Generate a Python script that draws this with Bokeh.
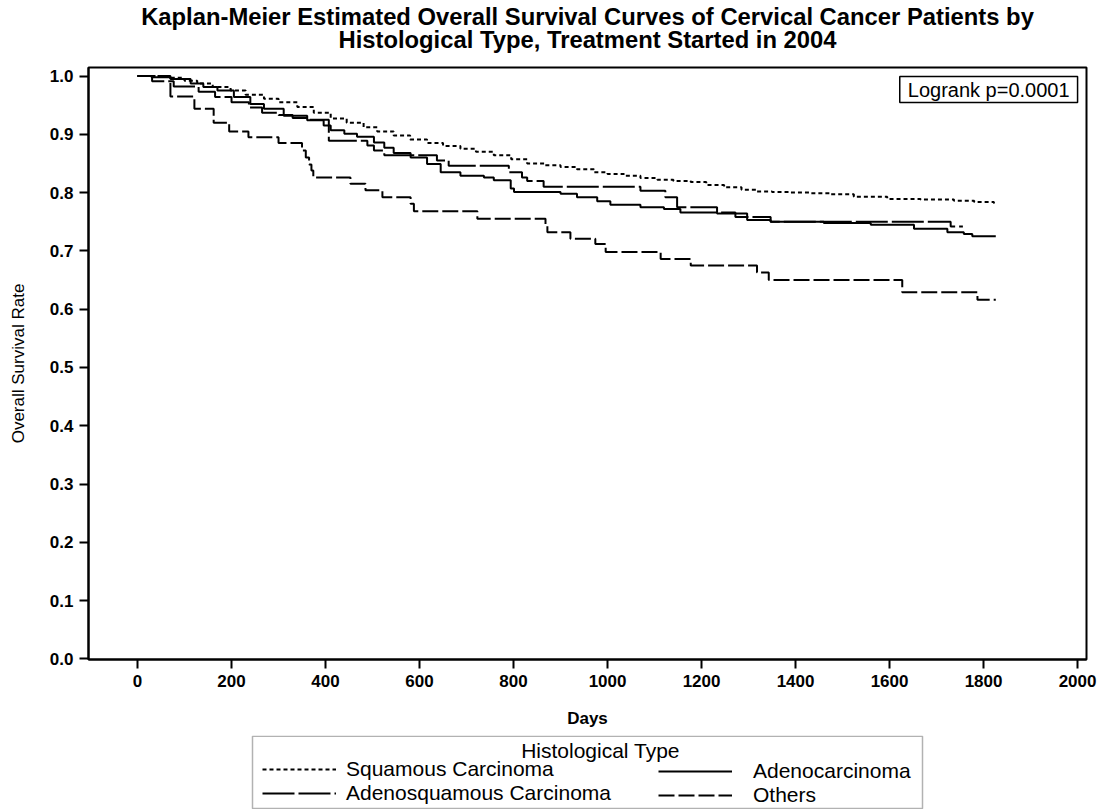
from bokeh.plotting import figure
from bokeh.layouts import column
from bokeh.models import (Range1d, FixedTicker, PrintfTickFormatter, Legend, LegendItem, Label,
                          BoxAnnotation)
from bokeh.embed import file_html
from bokeh.resources import INLINE

# ---- data ----
sq_days = [0, 40, 70, 100, 127, 160, 198, 230, 269, 300, 340, 375, 411, 445, 481, 510, 545, 580,
           616, 650, 687, 720, 758, 795, 829, 865, 900, 935, 971, 1000, 1035, 1070, 1106, 1140,
           1177, 1210, 1248, 1285, 1318, 1350, 1389, 1430, 1474, 1524, 1595, 1666, 1737, 1780, 1822, 1826]
sq_surv = [1.0, 0.999, 0.997, 0.992, 0.987, 0.981, 0.975, 0.968, 0.961, 0.955, 0.947, 0.937, 0.927,
           0.920, 0.912, 0.905, 0.898, 0.891, 0.885, 0.880, 0.875, 0.870, 0.864, 0.857, 0.850, 0.847,
           0.844, 0.840, 0.835, 0.832, 0.829, 0.825, 0.822, 0.820, 0.818, 0.813, 0.809, 0.805, 0.802,
           0.801, 0.800, 0.799, 0.797, 0.793, 0.789, 0.788, 0.786, 0.784, 0.782, 0.782]

ad_days = [0, 30, 70, 113, 140, 170, 205, 240, 269, 311, 361, 396, 411, 440, 467, 503, 525, 545,
           581, 616, 645, 687, 737, 758, 794, 801, 900, 935, 978, 1006, 1070, 1120, 1155, 1233,
           1297, 1347, 1460, 1560, 1652, 1723, 1758, 1776, 1826]
ad_surv = [1.0, 0.998, 0.995, 0.987, 0.981, 0.975, 0.964, 0.952, 0.944, 0.932, 0.924, 0.915, 0.907,
           0.901, 0.896, 0.886, 0.877, 0.868, 0.860, 0.849, 0.835, 0.829, 0.826, 0.821, 0.807, 0.801,
           0.798, 0.792, 0.785, 0.779, 0.775, 0.772, 0.766, 0.764, 0.753, 0.750, 0.748, 0.745, 0.738,
           0.732, 0.729, 0.725, 0.725]

as_days = [0, 31, 77, 130, 165, 200, 237, 265, 300, 330, 360, 407, 489, 503, 525, 637, 662, 790,
           818, 829, 864, 1070, 1123, 1148, 1233, 1272, 1347, 1730, 1756]
as_surv = [1.0, 0.991, 0.982, 0.973, 0.964, 0.955, 0.946, 0.937, 0.933, 0.928, 0.925, 0.889, 0.881,
           0.872, 0.864, 0.855, 0.846, 0.835, 0.826, 0.820, 0.810, 0.803, 0.792, 0.775, 0.766, 0.758,
           0.750, 0.742, 0.742]

ot_days = [0, 70, 121, 162, 195, 236, 300, 350, 358, 365, 370, 374, 453, 485, 521, 581, 588, 723,
           868, 872, 921, 974, 996, 1113, 1177, 1318, 1343, 1627, 1787, 1826]
ot_surv = [1.0, 0.965, 0.944, 0.920, 0.905, 0.895, 0.885, 0.872, 0.860, 0.848, 0.838, 0.826, 0.815,
           0.804, 0.792, 0.781, 0.768, 0.755, 0.744, 0.732, 0.721, 0.712, 0.698, 0.686, 0.675, 0.663,
           0.650, 0.629, 0.616, 0.616]

series_names = ["Squamous Carcinoma", "Adenocarcinoma", "Adenosquamous Carcinoma", "Others"]
x_ticks = [0, 200, 400, 600, 800, 1000, 1200, 1400, 1600, 1800, 2000]
y_ticks = [0.0, 0.1, 0.2, 0.3, 0.4, 0.5, 0.6, 0.7, 0.8, 0.9, 1.0]

title_line1 = "Kaplan-Meier Estimated Overall Survival Curves of Cervical Cancer Patients by"
title_line2 = "Histological Type, Treatment Started in 2004"
legend_title = "Histological Type"
logrank_text = "Logrank p=0.0001"
FONT = "Liberation Sans"
W = 1107
FRAME_L, FRAME_R = 88, 1086   # page pixels of the plotting frame (strips are aligned to it)
STYLES = {"Squamous Carcinoma": "4 3", "Adenocarcinoma": "solid",
          "Adenosquamous Carcinoma": "32 4", "Others": "16 4"}
data = {"Squamous Carcinoma": (sq_days, sq_surv), "Adenocarcinoma": (ad_days, ad_surv),
        "Adenosquamous Carcinoma": (as_days, as_surv), "Others": (ot_days, ot_surv)}


def strip(height):
    f = figure(width=W, height=height, output_backend="svg", toolbar_location=None,
               x_axis_type=None, y_axis_type=None, min_border=0,
               x_range=Range1d(FRAME_L, FRAME_R), y_range=Range1d(0, height))
    f.outline_line_color = None
    f.background_fill_color = "white"
    f.border_fill_color = "white"
    return f


# ---------- title strip ----------
H0 = 59
p0 = strip(H0)
for txt, cy in ((title_line1, 16), (title_line2, 39)):
    p0.add_layout(Label(x=587, y=H0 - cy, text=txt, text_align="center", text_baseline="middle",
                        text_font=FONT, text_font_size="23.8px", text_font_style="bold",
                        text_color="black"))

# ---------- main plot ----------
H1 = 676
p = figure(width=W, height=H1, output_backend="svg", toolbar_location=None,
           x_range=Range1d(-104.3, 2019), y_range=Range1d(-0.001, 1.0146),
           min_border_left=88, min_border_right=21, min_border_top=8, min_border_bottom=76)
p.grid.visible = False
p.outline_line_color = "black"
p.outline_line_width = 2
p.background_fill_color = "white"
p.border_fill_color = "white"

for ax in (p.xaxis[0], p.yaxis[0]):
    ax.axis_line_width = 2
    ax.major_tick_line_width = 2
    ax.major_tick_in = 0
    ax.major_tick_out = 9
    ax.minor_tick_line_color = None
    ax.major_label_text_font = FONT
    ax.major_label_text_font_size = "17px"
    ax.major_label_text_font_style = "bold"
    ax.major_label_text_color = "black"
    ax.major_label_standoff = 6
    ax.axis_label_text_font = FONT
    ax.axis_label_text_color = "black"

p.xaxis.ticker = FixedTicker(ticks=x_ticks)
p.yaxis.ticker = FixedTicker(ticks=y_ticks)
p.yaxis.formatter = PrintfTickFormatter(format="%.1f")
p.xaxis.axis_label = "Days"
p.xaxis.axis_label_text_font_size = "17px"
p.xaxis.axis_label_text_font_style = "bold"
p.xaxis.axis_label_standoff = 19
p.yaxis.axis_label = "Overall Survival Rate"
p.yaxis.axis_label_text_font_size = "17px"
p.yaxis.axis_label_text_font_style = "normal"
p.yaxis.axis_label_standoff = 19

for name in series_names:
    xs, ys = data[name]
    p.step(xs, ys, mode="after", line_color="black", line_width=2, line_dash=STYLES[name])

p.add_layout(Label(x=2000, y=0.999, text=logrank_text, text_align="right", text_baseline="top",
                   text_font=FONT, text_font_size="20px", text_color="black",
                   border_line_color="black", border_line_width=1.5,
                   background_fill_color="white",
                   padding=dict(left=8, right=8, top=2, bottom=2)))

# ---------- legend strip ----------
H2 = 74
p2 = strip(H2)
proxies = {}
for name in series_names:
    xs, ys = data[name]
    proxies[name] = p2.step(xs, ys, mode="after", line_color="black", line_width=2,
                            line_dash=STYLES[name], visible=False)


def make_legend(names, loc, gw, standoff):
    lg = Legend(items=[LegendItem(label=n, renderers=[proxies[n]]) for n in names],
                location=loc, orientation="vertical")
    lg.label_text_font = FONT
    lg.label_text_font_size = "21px"
    lg.label_text_color = "black"
    lg.glyph_width = gw
    lg.glyph_height = 22
    lg.label_height = 22
    lg.label_standoff = standoff
    lg.spacing = 0
    lg.padding = 0
    lg.margin = 0
    lg.border_line_color = None
    lg.background_fill_alpha = 0
    lg.click_policy = "none"
    return lg


# locations are measured from the frame's left edge / bottom edge
p2.add_layout(make_legend(["Squamous Carcinoma", "Adenosquamous Carcinoma"], (262 - FRAME_L, 4), 74, 10))
p2.add_layout(make_legend(["Adenocarcinoma", "Others"], (658 - FRAME_L, 2), 74, 21))
p2.add_layout(BoxAnnotation(left=252, right=922, bottom=1, top=73.3, fill_alpha=0,
                            line_color="black", line_width=1.5))
p2.add_layout(Label(x=600, y=59, text=legend_title, text_align="center",
                    text_baseline="middle", text_font=FONT, text_font_size="21px",
                    text_color="black"))

layout = column(p0, p, p2, spacing=0)
open("out.html", "w").write(file_html(layout, INLINE))
